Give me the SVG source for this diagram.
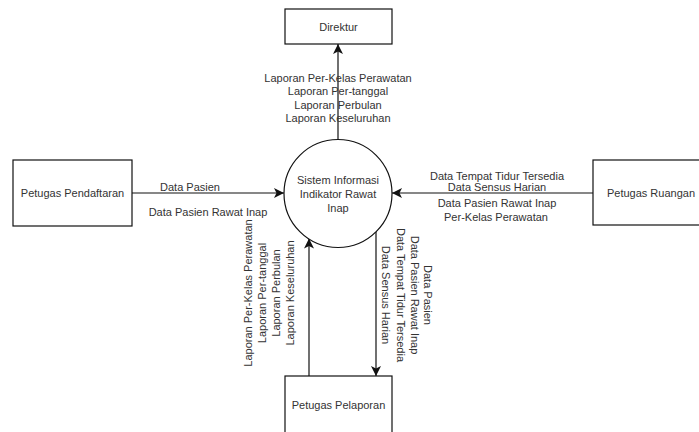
<svg xmlns="http://www.w3.org/2000/svg" width="699" height="432" viewBox="0 0 699 432">
  <defs>
    <marker id="arr" markerUnits="userSpaceOnUse" markerWidth="12" markerHeight="12" refX="10" refY="5" orient="auto">
      <path d="M0,0 L10,5 L0,10 L2.5,5 Z" fill="#111"/>
    </marker>
    <style>
      .box { fill: #fff; stroke: #111; stroke-width: 1.2; }
      .edge { fill: none; stroke: #111; stroke-width: 1.2; marker-end: url(#arr); }
      text { font-family: "Liberation Sans", Arial, sans-serif; font-size: 11px; fill: #333; text-anchor: middle; dominant-baseline: central; }
    </style>
  </defs>
  <rect width="699" height="432" fill="#fff"/>

  <g id="connectors">
    <line class="edge" x1="338" y1="139" x2="338" y2="44"/>
    <line class="edge" x1="132" y1="193" x2="284" y2="193"/>
    <line class="edge" x1="593" y1="193" x2="392" y2="193"/>
    <line class="edge" x1="309" y1="376" x2="309" y2="238.5"/>
    <line class="edge" x1="376" y1="231" x2="376" y2="376"/>
  </g>

  <g id="labels">
    <text x="338" y="78">Laporan Per-Kelas Perawatan</text>
    <text x="338" y="91">Laporan Per-tanggal</text>
    <text x="338" y="104.5">Laporan Perbulan</text>
    <text x="338" y="118">Laporan Keseluruhan</text>

    <text x="190" y="187">Data Pasien</text>
    <text x="208" y="212">Data Pasien Rawat Inap</text>

    <text x="497" y="176">Data Tempat Tidur Tersedia</text>
    <text x="497" y="187">Data Sensus Harian</text>
    <text x="497" y="203">Data Pasien Rawat Inap</text>
    <text x="496" y="217">Per-Kelas Perawatan</text>

    <text transform="translate(248,293) rotate(-90)">Laporan Per-Kelas Perawatan</text>
    <text transform="translate(262,293) rotate(-90)">Laporan Per-tanggal</text>
    <text transform="translate(275.5,293) rotate(-90)">Laporan Perbulan</text>
    <text transform="translate(290,293) rotate(-90)">Laporan Keseluruhan</text>

    <text transform="translate(428,295) rotate(90)">Data Pasien</text>
    <text transform="translate(415,295) rotate(90)">Data Pasien Rawat Inap</text>
    <text transform="translate(401,295) rotate(90)">Data Tempat Tidur Tersedia</text>
    <text transform="translate(386,295) rotate(90)">Data Sensus Harian</text>
  </g>

  <g id="direktur">
    <rect class="box" x="285" y="9" width="107" height="35"/>
    <text x="338.5" y="27">Direktur</text>
  </g>

  <g id="sistem">
    <circle class="box" cx="338" cy="193.5" r="54"/>
    <text x="338" y="180">Sistem Informasi</text>
    <text x="338" y="194">Indikator Rawat</text>
    <text x="338" y="208">Inap</text>
  </g>

  <g id="petugas-pendaftaran">
    <rect class="box" x="13" y="160" width="119" height="66"/>
    <text x="72.5" y="193">Petugas Pendaftaran</text>
  </g>

  <g id="petugas-ruangan">
    <rect class="box" x="593" y="160" width="119" height="65"/>
    <text x="651" y="193">Petugas Ruangan</text>
  </g>

  <g id="petugas-pelaporan">
    <rect class="box" x="285" y="376" width="107" height="60"/>
    <text x="338.5" y="405">Petugas Pelaporan</text>
  </g>
</svg>
